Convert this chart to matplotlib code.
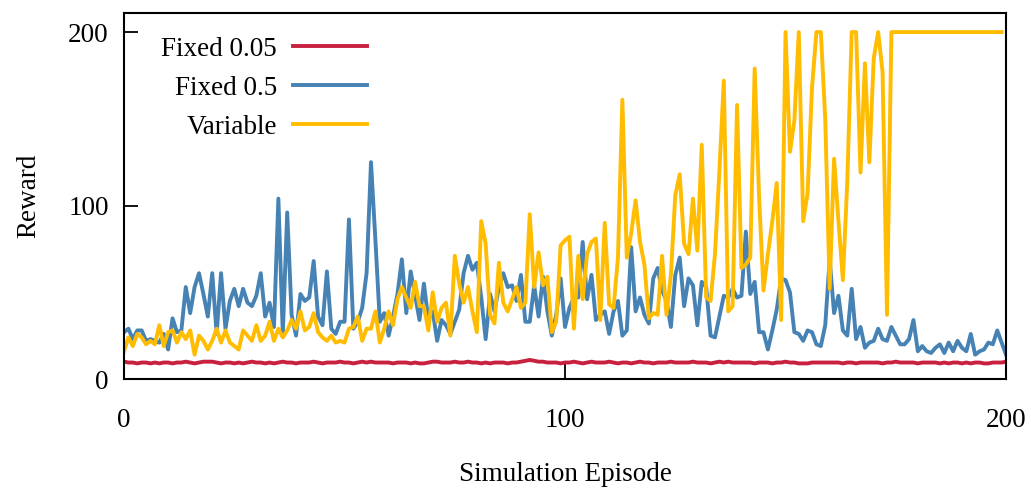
import matplotlib
matplotlib.use("Agg")
import matplotlib.pyplot as plt

# reward per simulation episode for each exploration setting
fixed_005 = [10, 9.5, 9.5, 9, 9.5, 9.5, 9, 9.5, 9, 9.5, 9.5, 9, 9.5, 9.5, 10, 9.5, 9, 9.5, 10, 10,
             10, 9.5, 9, 9.5, 9.5, 9, 9.5, 9, 9.5, 10, 9.5, 9.5, 9, 9.5, 9, 9.5, 10, 9.5, 9.5, 9,
             9.5, 9.5, 9.5, 10, 9.5, 9, 9.5, 9.5, 9.5, 10, 9.5, 9.5, 9, 9.5, 10, 9.5, 10, 9.5, 9.5, 9.5,
             9.5, 9, 9.5, 9.5, 9.5, 9, 9.5, 9, 9, 9.5, 10, 10, 9.5, 9.5, 9.5, 10, 9.5, 9.5, 10, 9.5,
             9.5, 9, 9.5, 9, 9.5, 9.5, 9.5, 9, 9.5, 9.5, 10, 10.5, 11, 10.5, 10, 10, 9.5, 9.5, 9.5, 9,
             9.5, 9.5, 10, 9.5, 9, 9.5, 10, 9.5, 9.5, 9.5, 10, 9.5, 9, 9.5, 9.5, 9, 9.5, 10, 9.5, 9.5,
             9, 9.5, 9.5, 9.5, 10, 9.5, 9.5, 9.5, 9.5, 10, 9.5, 9.5, 9.5, 9, 9.5, 10, 9.5, 10, 9.5, 9.5,
             9.5, 9.5, 9.5, 9, 9.5, 9.5, 9.5, 9, 9.5, 9.5, 10, 9.5, 9.5, 9, 9, 9, 9.5, 9.5, 9.5, 9.5,
             9.5, 9.5, 9.5, 9, 9.5, 9.5, 9, 9.5, 9.5, 9.5, 9.5, 9.5, 9, 9.5, 9.5, 10, 9.5, 9.5, 9.5, 9.5,
             9, 9.5, 9.5, 9.5, 9.5, 9, 9.5, 9, 9.5, 9.5, 9, 9.5, 9, 9.5, 9.5, 9, 9, 9.5, 9.5, 9.5,
             10]

fixed_05 = [27, 29, 23, 28, 28, 22, 23, 22, 21, 26, 17, 35, 27, 28, 53, 38, 53, 61, 49, 36,
            61, 26, 61, 29, 45, 52, 42, 52, 44, 42, 48, 61, 36, 44, 30, 104, 26, 96, 37, 25,
            49, 45, 47, 68, 36, 31, 62, 29, 26, 33, 33, 92, 29, 33, 41, 61, 125, 80, 33, 38,
            25, 36, 49, 69, 38, 62, 48, 34, 55, 34, 39, 22, 34, 31, 26, 33, 40, 61, 71, 63,
            67, 47, 23, 49, 39, 53, 61, 53, 54, 45, 60, 33, 33, 54, 36, 59, 39, 25, 37, 58,
            30, 41, 47, 47, 79, 46, 60, 34, 37, 39, 26, 39, 45, 25, 28, 76, 39, 47, 37, 32,
            58, 64, 51, 45, 30, 60, 70, 42, 58, 54, 31, 56, 53, 25, 24, 36, 48, 47, 52, 47,
            48, 85, 49, 56, 27, 27, 17, 28, 40, 58, 57, 50, 27, 26, 22, 28, 27, 20, 19, 31,
            69, 38, 48, 28, 25, 52, 23, 30, 18, 21, 22, 29, 23, 22, 30, 25, 20, 20, 23, 34,
            16, 19, 16, 15, 18, 20, 15, 21, 16, 22, 18, 16, 26, 14, 16, 17, 21, 20, 28, 21,
            14]

variable = [16, 24, 19, 26, 24, 20, 22, 20, 31, 19, 27, 28, 21, 27, 23, 28, 14, 25, 22, 17,
            22, 29, 21, 28, 21, 19, 17, 28, 25, 22, 31, 22, 25, 33, 22, 29, 24, 28, 34, 29,
            39, 28, 30, 38, 27, 24, 22, 25, 21, 22, 21, 29, 30, 36, 22, 29, 29, 39, 21, 29,
            39, 31, 46, 53, 47, 41, 56, 42, 42, 28, 50, 33, 41, 44, 25, 71, 55, 44, 53, 39,
            27, 91, 78, 37, 32, 67, 44, 39, 46, 53, 41, 44, 95, 53, 73, 54, 59, 27, 33, 77,
            80, 82, 29, 71, 46, 72, 79, 81, 34, 90, 43, 41, 70, 161, 70, 84, 103, 79, 66, 35,
            38, 37, 71, 37, 60, 106, 118, 78, 72, 104, 74, 135, 47, 45, 72, 120, 172, 39, 42, 158,
            64, 66, 70, 179, 105, 51, 72, 91, 113, 34, 200, 131, 149, 200, 91, 107, 168, 200, 200, 150,
            52, 127, 91, 57, 114, 200, 200, 119, 182, 125, 185, 200, 177, 37, 200, 200, 200, 200, 200, 200,
            200, 200, 200, 200, 200, 200, 200, 200, 200, 200, 200, 200, 200, 200, 200, 200, 200, 200, 200, 200]

plt.rcParams["font.family"] = ["Liberation Serif", "DejaVu Serif"]
plt.rcParams["font.size"] = 19.5

fig = plt.figure(figsize=(10.31, 4.9), dpi=100)
ax = fig.add_axes([0.1203, 0.2265, 0.8555, 0.747])

ax.plot(range(len(fixed_005)), fixed_005, color="#C8213F", lw=2.8, label="Fixed 0.05")
ax.plot(range(len(fixed_05)), fixed_05, color="#4682B4", lw=2.8, label="Fixed 0.5")
ax.plot(range(len(variable)), variable, color="#FFBC00", lw=2.8, label="Variable")

ax.set_xlim(0, 200)
ax.set_ylim(0, 211)
ax.set_xticks([0, 100, 200])
ax.set_yticks([0, 100, 200])
ax.tick_params(axis="x", direction="in", length=13, width=1.3, pad=21, top=False)
ax.tick_params(axis="y", direction="in", length=10, width=1.3, pad=11, right=False)
for s in ax.spines.values():
    s.set_linewidth(1.5)

ax.set_xlabel("Simulation Episode", labelpad=21)
ax.set_ylabel("Reward", labelpad=19)

ax.legend(loc="upper right", bbox_to_anchor=(0.275, 0.935), frameon=False,
          markerfirst=False, handlelength=2.7, handletextpad=0.6,
          labelspacing=0.52, borderpad=0, borderaxespad=0)

fig.savefig("out.png", dpi=100)
